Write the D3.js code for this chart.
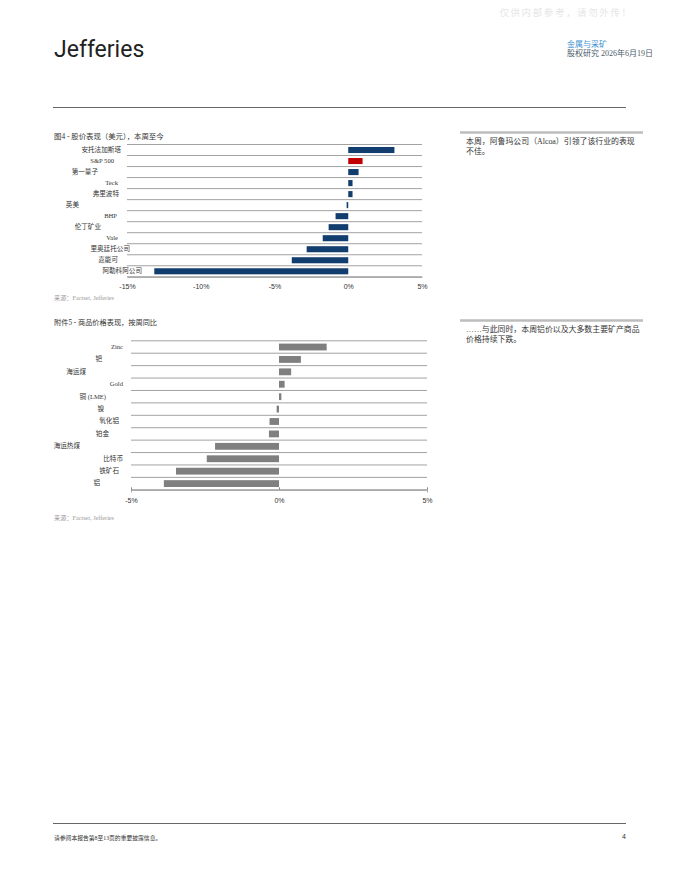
<!doctype html>
<html>
<head>
<meta charset="UTF-8">
<title>Jefferies 金属与采矿</title>
<style>
	body { margin: 0; background: #fff; }
	#container { width: 680px; height: 880px; }
	text { font-family: "Liberation Serif", "Noto Sans CJK SC", serif; }
</style>
</head>
<body>
<div id="container"></div>
<script src="https://cdn.jsdelivr.net/npm/d3@7"></script>
<script>
	var w = 680;
	var h = 880;

	// 图4 股价表现（美元），本周至今
	var stockNames = ["安托法加斯塔", "S&P 500", "第一量子", "Teck", "弗里波特", "英美",
		"BHP", "伦丁矿业", "Vale", "里奥廷托公司", "嘉能可", "阿勒科阿公司"];
	var stockValues = [3.13, 0.97, 0.70, 0.29, 0.29, -0.11, -0.86, -1.33, -1.73, -2.82, -3.83, -13.15];
	var stockTicks = [-15, -10, -5, 0, 5];

	// 附件5 商品价格表现，按周同比
	var commNames = ["Zinc", "钯", "海运煤", "Gold", "铜 (LME)", "镍", "氧化铝", "铂金",
		"海运热煤", "比特币", "铁矿石", "铝"];
	var commValues = [1.61, 0.74, 0.41, 0.19, 0.08, -0.08, -0.32, -0.34, -2.16, -2.44, -3.48, -3.89];
	var commTicks = [-5, 0, 5];

	// 标签右端位置（原图排版不齐）
	var stockLabelEnd = [121, 114, 98, 118, 119, 79, 117, 101, 118, 130, 118, 142];
	var commLabelEnd = [123, 102, 86, 123, 106, 104, 119, 109, 80, 123, 119, 100];

	var svg = d3.select("#container")
			.append("svg")
			.attr("width", w)
			.attr("height", h);

	svg.append("rect").attr("width", w).attr("height", h).attr("fill", "#fff");

	// 水印
	svg.append("text")
			.attr("x", 566).attr("y", 16)
			.attr("text-anchor", "middle")
			.attr("font-family", "Noto Sans CJK SC")
			.attr("font-size", 9.5)
			.attr("letter-spacing", 1.6)
			.attr("fill", "#e6e6e6")
			.text("仅供内部参考，请勿外传！");

	// 页眉
	svg.append("text")
			.attr("x", 54).attr("y", 57)
			.style("font-family", "Roboto, 'Liberation Sans', sans-serif")
			.attr("font-size", 23)
			.attr("font-weight", 400)
			.attr("fill", "#222")
			.text("Jefferies");
	svg.append("text")
			.attr("x", 567).attr("y", 47)
			.attr("font-size", 8)
			.attr("fill", "#3d8fd0")
			.text("金属与采矿");
	svg.append("text")
			.attr("x", 567).attr("y", 56)
			.attr("font-size", 8)
			.attr("fill", "#4b5b6b")
			.text("股权研究 2026年6月19日");
	svg.append("line")
			.attr("x1", 53).attr("x2", 626)
			.attr("y1", 107.5).attr("y2", 107.5)
			.attr("stroke", "#666").attr("stroke-width", 1);

	function drawChart(opts) {
		var g = svg.append("g");
		var xScale = d3.scaleLinear()
				.domain(opts.domain)
				.range(opts.xRange);
		var yScale = d3.scaleBand()
				.domain(opts.names)
				.range(opts.yRange)
				.padding(0);
		var bw = yScale.bandwidth();
		var barH = bw * 0.55;

		g.append("text")
				.attr("x", 54).attr("y", opts.titleY)
				.attr("font-size", opts.titleSize)
				.attr("fill", "#333")
				.text(opts.title);

		// 行分隔线
		var lines = opts.names.map(function (d) { return yScale(d); });
		lines.push(opts.yRange[1]);
		g.selectAll("line.grid")
				.data(lines)
				.enter()
				.append("line")
				.attr("class", "grid")
				.attr("x1", xScale(opts.domain[0]))
				.attr("x2", xScale(opts.domain[1]))
				.attr("y1", function (d) { return d + 0.5; })
				.attr("y2", function (d) { return d + 0.5; })
				.attr("stroke", "#8a8a8a")
				.attr("stroke-width", 0.8);

		g.selectAll("rect.bar")
				.data(opts.values)
				.enter()
				.append("rect")
				.attr("class", "bar")
				.attr("x", function (d) { return xScale(Math.min(0, d)); })
				.attr("width", function (d) { return Math.abs(xScale(d) - xScale(0)); })
				.attr("y", function (d, i) { return yScale(opts.names[i]) + (bw - barH) / 2 + 0.5; })
				.attr("height", barH)
				.attr("fill", function (d, i) { return opts.color(i); });

		g.selectAll("text.cat")
				.data(opts.names)
				.enter()
				.append("text")
				.attr("class", "cat")
				.attr("x", function (d, i) { return opts.labelEnd[i]; })
				.attr("y", function (d) { return yScale(d) + bw / 2 + 2.4; })
				.attr("text-anchor", "end")
				.attr("font-size", 6.6)
				.attr("fill", "#333")
				.text(function (d) { return d; });

		// x 轴
		var axis = d3.axisBottom(xScale)
				.tickValues(opts.ticks)
				.tickSize(opts.tickSize)
				.tickFormat(function (d) { return d + "%"; });
		var ag = g.append("g")
				.attr("transform", "translate(0," + (opts.yRange[1] + 0.5) + ")")
				.call(axis);
		ag.select(".domain").attr("stroke", "#8a8a8a").attr("stroke-width", 0.8);
		ag.selectAll(".tick line")
				.attr("y2", -opts.tickSize)
				.attr("stroke", "#8a8a8a");
		ag.selectAll(".tick text")
				.attr("y", opts.labelDy)
				.style("font-family", "'Liberation Sans', Arial, sans-serif")
				.attr("font-size", 7)
				.attr("fill", "#333");

		g.append("text")
				.attr("x", 54).attr("y", opts.sourceY)
				.attr("font-size", 6.2)
				.attr("fill", "#999")
				.text("来源：Factset, Jefferies");
	}

	drawChart({
		names: stockNames,
		values: stockValues,
		ticks: stockTicks,
		domain: [-15, 5],
		xRange: [127, 422],
		yRange: [144, 276.3],
		title: "图4 - 股价表现（美元），本周至今",
		titleY: 139,
		titleSize: 7.4,
		labelEnd: stockLabelEnd,
		tickSize: 0,
		labelDy: 7,
		sourceY: 300,
		color: function (i) { return stockNames[i] === "S&P 500" ? "#c00000" : "#123d6f"; }
	});

	drawChart({
		names: commNames,
		values: commValues,
		ticks: commTicks,
		domain: [-5, 5],
		xRange: [131, 427],
		yRange: [340.3, 489.3],
		title: "附件5 - 商品价格表现，按周同比",
		titleY: 325,
		titleSize: 7.2,
		labelEnd: commLabelEnd,
		tickSize: 2.5,
		labelDy: 8,
		sourceY: 520,
		color: function () { return "#7f7f7f"; }
	});

	// 右侧说明
	var notes = [
		{ y: 132.5, lines: ["本周，阿鲁玛公司（Alcoa）引领了该行业的表现", "不佳。"] },
		{ y: 320.5, lines: ["……与此同时，本周铝价以及大多数主要矿产商品", "价格持续下跌。"] }
	];
	notes.forEach(function (n) {
		svg.append("line")
				.attr("x1", 460).attr("x2", 643)
				.attr("y1", n.y).attr("y2", n.y)
				.attr("stroke", "#bdbdbd").attr("stroke-width", 2.4);
		svg.selectAll(null)
				.data(n.lines)
				.enter()
				.append("text")
				.attr("x", 466)
				.attr("y", function (d, i) { return n.y + 11.5 + i * 9.5; })
				.attr("font-size", 7.9)
				.attr("fill", "#333")
				.text(function (d) { return d; });
	});

	// 页脚
	svg.append("line")
			.attr("x1", 53).attr("x2", 626)
			.attr("y1", 823.5).attr("y2", 823.5)
			.attr("stroke", "#666").attr("stroke-width", 1);
	svg.append("text")
			.attr("x", 54).attr("y", 840)
			.attr("font-size", 5.8)
			.attr("fill", "#333")
			.text("请参阅本报告第8至13页的重要披露信息。");
	svg.append("text")
			.attr("x", 626).attr("y", 839)
			.attr("text-anchor", "end")
			.style("font-family", "'Liberation Sans', Arial, sans-serif")
			.attr("font-size", 7)
			.attr("fill", "#333")
			.text("4");
</script>
</body>
</html>
